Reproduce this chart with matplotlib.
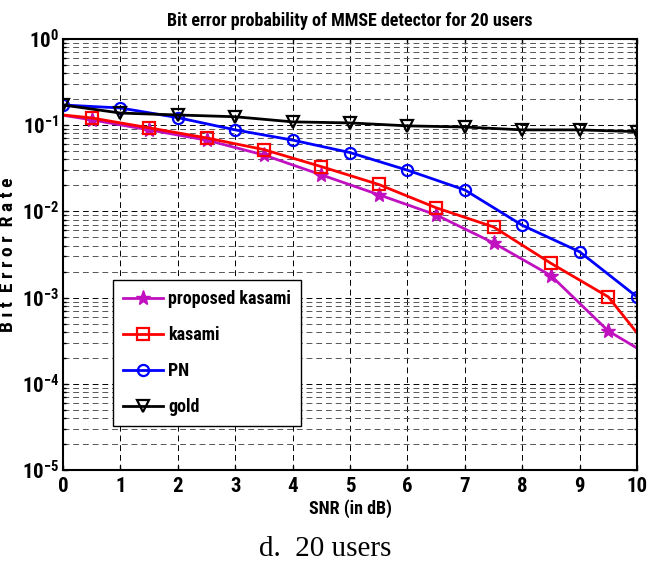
import numpy as np
import matplotlib.pyplot as plt
from matplotlib.ticker import LogLocator, NullFormatter, MultipleLocator

# SNR points (dB)
snr = [0, 1, 2, 3, 4, 5, 6, 7, 8, 9, 10]
snr_half = [0, 0.5, 1.5, 2.5, 3.5, 4.5, 5.5, 6.5, 7.5, 8.5, 9.5, 10]

ber_gold = [0.171, 0.138, 0.131, 0.125, 0.109, 0.106, 0.098, 0.095, 0.088, 0.088, 0.084]
ber_pn = [0.171, 0.158, 0.122, 0.088, 0.067, 0.048, 0.030, 0.0177, 0.0069, 0.0034, 0.00102]
ber_kasami = [0.131, 0.121, 0.093, 0.071, 0.052, 0.033, 0.0205, 0.011, 0.0066, 0.0025, 0.00102, 0.00039]
ber_prop = [0.13, 0.115, 0.088, 0.067, 0.045, 0.0265, 0.0156, 0.0091, 0.0043, 0.0018, 0.00041, 0.00026]

plt.rcParams['font.family'] = ['Roboto Condensed', 'Liberation Sans', 'DejaVu Sans']
plt.rcParams['font.weight'] = 'bold'

fig = plt.figure(figsize=(6.5, 5.63), dpi=100)
ax = fig.add_axes([0.097, 0.165, 0.883, 0.766])

lw = 2.0
ax.plot(snr_half, ber_prop, color='#c010c0', lw=lw, marker='*', ms=11,
        markevery=list(range(1, 11)), label='proposed kasami')
ax.plot(snr_half, ber_kasami, color='#ff0000', lw=lw, marker='s', ms=8, mfc='none', mew=1.6,
        markevery=list(range(1, 11)), label='kasami')
ax.plot(snr, ber_pn, color='#0000ff', lw=lw, marker='o', ms=8, mfc='none', mew=1.6,
        label='PN')
ax.plot(snr, ber_gold, color='black', lw=lw, marker='v', ms=9, mfc='none', mew=1.6,
        label='gold')

ax.set_yscale('log')
ax.set_xlim(0, 10)
ax.set_ylim(1e-5, 1)
ax.xaxis.set_major_locator(MultipleLocator(1))
ax.yaxis.set_major_locator(LogLocator(base=10, numticks=10))
ax.yaxis.set_minor_locator(LogLocator(base=10, subs=np.arange(2, 10), numticks=20))
ax.yaxis.set_minor_formatter(NullFormatter())

grid_kw = dict(color='black', linestyle=(0, (6, 4)), linewidth=0.7)
ax.grid(True, which='major', axis='both', **grid_kw)
ax.grid(True, which='minor', axis='y', color='#555555', linestyle=(0, (6, 4)), linewidth=0.7)

ax.tick_params(direction='in', which='both', top=True, right=True, labelsize=15, width=1)
ax.tick_params(axis='x', pad=5)
ax.tick_params(axis='y', pad=3)
for lab in ax.get_xticklabels() + ax.get_yticklabels():
    lab.set_fontweight('bold')
for s in ax.spines.values():
    s.set_linewidth(1.5)

ax.set_title('Bit error probability of MMSE detector for 20 users', fontsize=13,
             fontweight='bold', pad=9)
ax.set_xlabel('SNR (in dB)', fontsize=13, fontweight='bold', labelpad=2)
ax.set_ylabel('B i t  E r r o r  R a t e', fontsize=14, fontweight='bold')
ax.yaxis.set_label_coords(-0.08, 0.5)

leg = ax.legend(loc='lower left', bbox_to_anchor=(0.087, 0.102), borderaxespad=0,
                fontsize=13, frameon=True, fancybox=False, edgecolor='black',
                handlelength=2.2, borderpad=0.55, labelspacing=1.0, handletextpad=0.3)
leg.get_frame().set_linewidth(1.0)
leg.get_frame().set_alpha(1)

fig.text(0.5, 0.012, 'd.  20 users', fontsize=21, family=['Liberation Serif', 'DejaVu Serif'],
         fontweight='normal', ha='center')

fig.savefig('out.png', dpi=100)
